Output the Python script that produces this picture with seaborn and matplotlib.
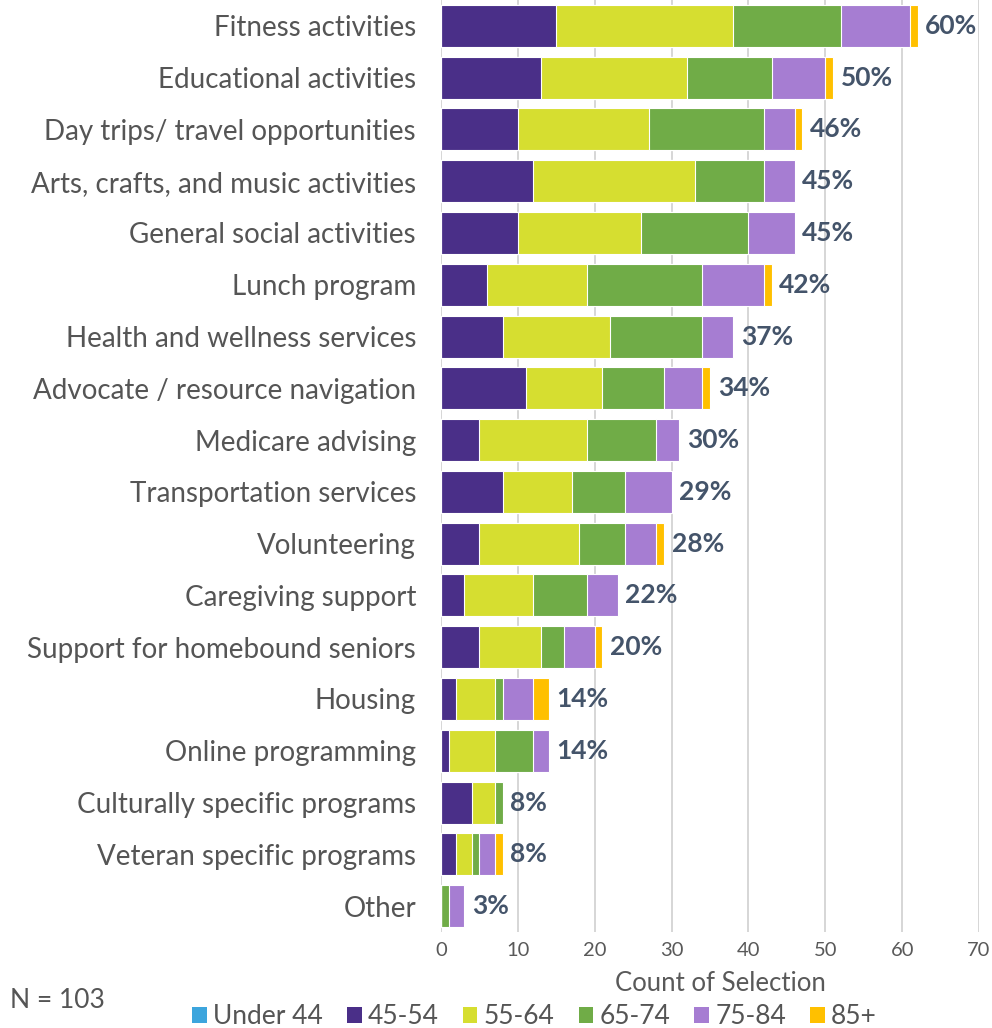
import numpy as np
import pandas as pd
import matplotlib
matplotlib.use("Agg")
import matplotlib.pyplot as plt
import seaborn as sns
from matplotlib.patches import Patch

# Programs and services, with counts of selections by age group
categories = [
    "Fitness activities", "Educational activities", "Day trips/ travel opportunities",
    "Arts, crafts, and music activities", "General social activities", "Lunch program",
    "Health and wellness services", "Advocate / resource navigation", "Medicare advising",
    "Transportation services", "Volunteering", "Caregiving support",
    "Support for homebound seniors", "Housing", "Online programming",
    "Culturally specific programs", "Veteran specific programs", "Other",
]
age_groups = ["Under 44", "45-54", "55-64", "65-74", "75-84", "85+"]

under_44 = [0, 0, 0, 0, 0, 0, 0, 0, 0, 0, 0, 0, 0, 0, 0, 0, 0, 0]
age_45_54 = [15, 13, 10, 12, 10, 6, 8, 11, 5, 8, 5, 3, 5, 2, 1, 4, 2, 0]
age_55_64 = [23, 19, 17, 21, 16, 13, 14, 10, 14, 9, 13, 9, 8, 5, 6, 3, 2, 0]
age_65_74 = [14, 11, 15, 9, 14, 15, 12, 8, 9, 7, 6, 7, 3, 1, 5, 1, 1, 1]
age_75_84 = [9, 7, 4, 4, 6, 8, 4, 5, 3, 6, 4, 4, 4, 4, 2, 0, 2, 2]
age_85_plus = [1, 1, 1, 0, 0, 1, 0, 1, 0, 0, 1, 0, 1, 2, 0, 0, 1, 0]
pct_labels = ["60%", "50%", "46%", "45%", "45%", "42%", "37%", "34%", "30%",
              "29%", "28%", "22%", "20%", "14%", "14%", "8%", "8%", "3%"]
n_respondents = "N = 103"

colors = ["#3CA5DD", "#4A2F88", "#D6DE30", "#70AC47", "#A67DD2", "#FFC000"]

df = pd.DataFrame({
    "category": categories,
    "Under 44": under_44, "45-54": age_45_54, "55-64": age_55_64,
    "65-74": age_65_74, "75-84": age_75_84, "85+": age_85_plus,
})
cum = df[age_groups].cumsum(axis=1)
totals = cum["85+"]

sns.set_theme(style="white")
plt.rcParams["font.family"] = ["Lato", "DejaVu Sans"]

fig = plt.figure(figsize=(9.92, 10.28), dpi=100)
ax = fig.add_axes([0.4446, 0.0934, 0.5423, 0.9066])

# Stacked bars: draw cumulative totals from the outermost group inward
for grp, col in reversed(list(zip(age_groups, colors))):
    sns.barplot(x=cum[grp], y=df["category"], color=col, orient="h", saturation=1,
                width=0.81, edgecolor="white", linewidth=0.8, ax=ax, zorder=3)

for i, (tot, lab) in enumerate(zip(totals, pct_labels)):
    ax.text(tot + 1.0, i, lab, va="center", ha="left", fontsize=19,
            fontweight="bold", color="#44546A", zorder=4)

ax.set_xlim(0, 70)
ax.set_ylim(len(categories) - 0.5, -0.5)
ax.set_xticks(np.arange(0, 71, 10))
ax.xaxis.grid(True, color="#D0D0D0", linewidth=1.2, zorder=0)
ax.yaxis.grid(False)
for s in ax.spines.values():
    s.set_visible(False)
ax.tick_params(axis="x", labelsize=14.5, colors="#595959", length=0, pad=7)
ax.tick_params(axis="y", labelsize=20, colors="#555555", length=0, pad=18)
ax.set_ylabel("")
ax.set_xlabel("Count of Selection", fontsize=18.5, color="#595959", labelpad=2)
ax.xaxis.set_label_coords(0.52, -0.055)
ax.xaxis.label.set_va("center")

handles = [Patch(facecolor=c, edgecolor="none") for c in colors]
fig.legend(handles, age_groups, loc="lower center", bbox_to_anchor=(0.539, -0.024),
           ncol=6, frameon=False, fontsize=19, handlelength=0.55, handleheight=0.55,
           handletextpad=0.25, columnspacing=0.9, labelcolor="#555555")

fig.text(0.01, 0.027, n_respondents, fontsize=19, color="#555555", ha="left", va="center")

fig.savefig("out.png", dpi=100)
